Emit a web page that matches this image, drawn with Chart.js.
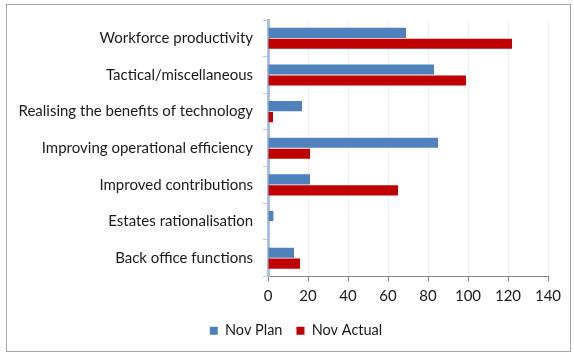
<!DOCTYPE html>
<html>
<head>
<meta charset="utf-8">
<script src="https://cdn.jsdelivr.net/npm/chart.js@4"></script>
<style>
  body { margin: 0; background: #fff; }
  #frame { position: absolute; left: 6px; top: 4px; width: 563px; height: 346px; border: 1px solid #a6a6a6; }
  #showdata { position: absolute; left: 0; top: 0; }
</style>
</head>
<body>
<div id="frame"></div>
<canvas id="showdata" width="574" height="356"></canvas>
<script>
const categories = [
  'Workforce productivity',
  'Tactical/miscellaneous',
  'Realising the benefits of technology',
  'Improving operational efficiency',
  'Improved contributions',
  'Estates rationalisation',
  'Back office functions'
];
const novPlan = [69, 83, 17, 85, 21, 2.7, 13];
const novActual = [122, 99, 2.5, 21, 65, 0, 16];
const xTicks = [0, 20, 40, 60, 80, 100, 120, 140];

Chart.defaults.font.family = 'Lato, "Open Sans", sans-serif';
Chart.defaults.color = '#1a1a1a';

// nudge the legend a bit right, like the excel one sits
const legendShift = {
  id: 'legendShift',
  afterLayout(chart) {
    chart.legend.left += 22;
    chart.legend.right += 22;
  }
};

const ctx = document.getElementById('showdata').getContext('2d');
new Chart(ctx, {
  type: 'bar',
  data: {
    labels: categories,
    datasets: [{
      label: 'Nov Plan',
      data: novPlan,
      backgroundColor: '#4f81bd',
      categoryPercentage: 0.6,
      barPercentage: 0.92
    }, {
      label: 'Nov Actual',
      data: novActual,
      backgroundColor: '#c00000',
      categoryPercentage: 0.6,
      barPercentage: 0.92
    }]
  },
  plugins: [legendShift],
  options: {
    indexAxis: 'y',
    responsive: false,
    animation: false,
    layout: { padding: { left: 0, right: 26, top: 20, bottom: 8 } },
    plugins: {
      legend: {
        position: 'bottom',
        labels: { boxWidth: 8, boxHeight: 8, padding: 14, font: { size: 14.5 } }
      },
      tooltip: { enabled: false }
    },
    scales: {
      x: {
        min: 0,
        max: 140,
        afterBuildTicks: function (scale) {
          scale.ticks = xTicks.map(v => ({ value: v }));
        },
        afterFit: function (scale) { scale.height = 33; },
        grid: { color: '#eeeeee', tickColor: '#868686', tickLength: 5 },
        border: { color: '#868686', width: 1 },
        ticks: { font: { size: 15 }, padding: 6 }
      },
      y: {
        afterFit: function (scale) { scale.width = 268; },
        grid: { drawOnChartArea: false, tickColor: '#b9cbe6', tickLength: 5 },
        border: { color: '#a9c0e3', width: 3 },
        ticks: { font: { size: 15 }, padding: 10 }
      }
    }
  }
});
</script>
</body>
</html>
